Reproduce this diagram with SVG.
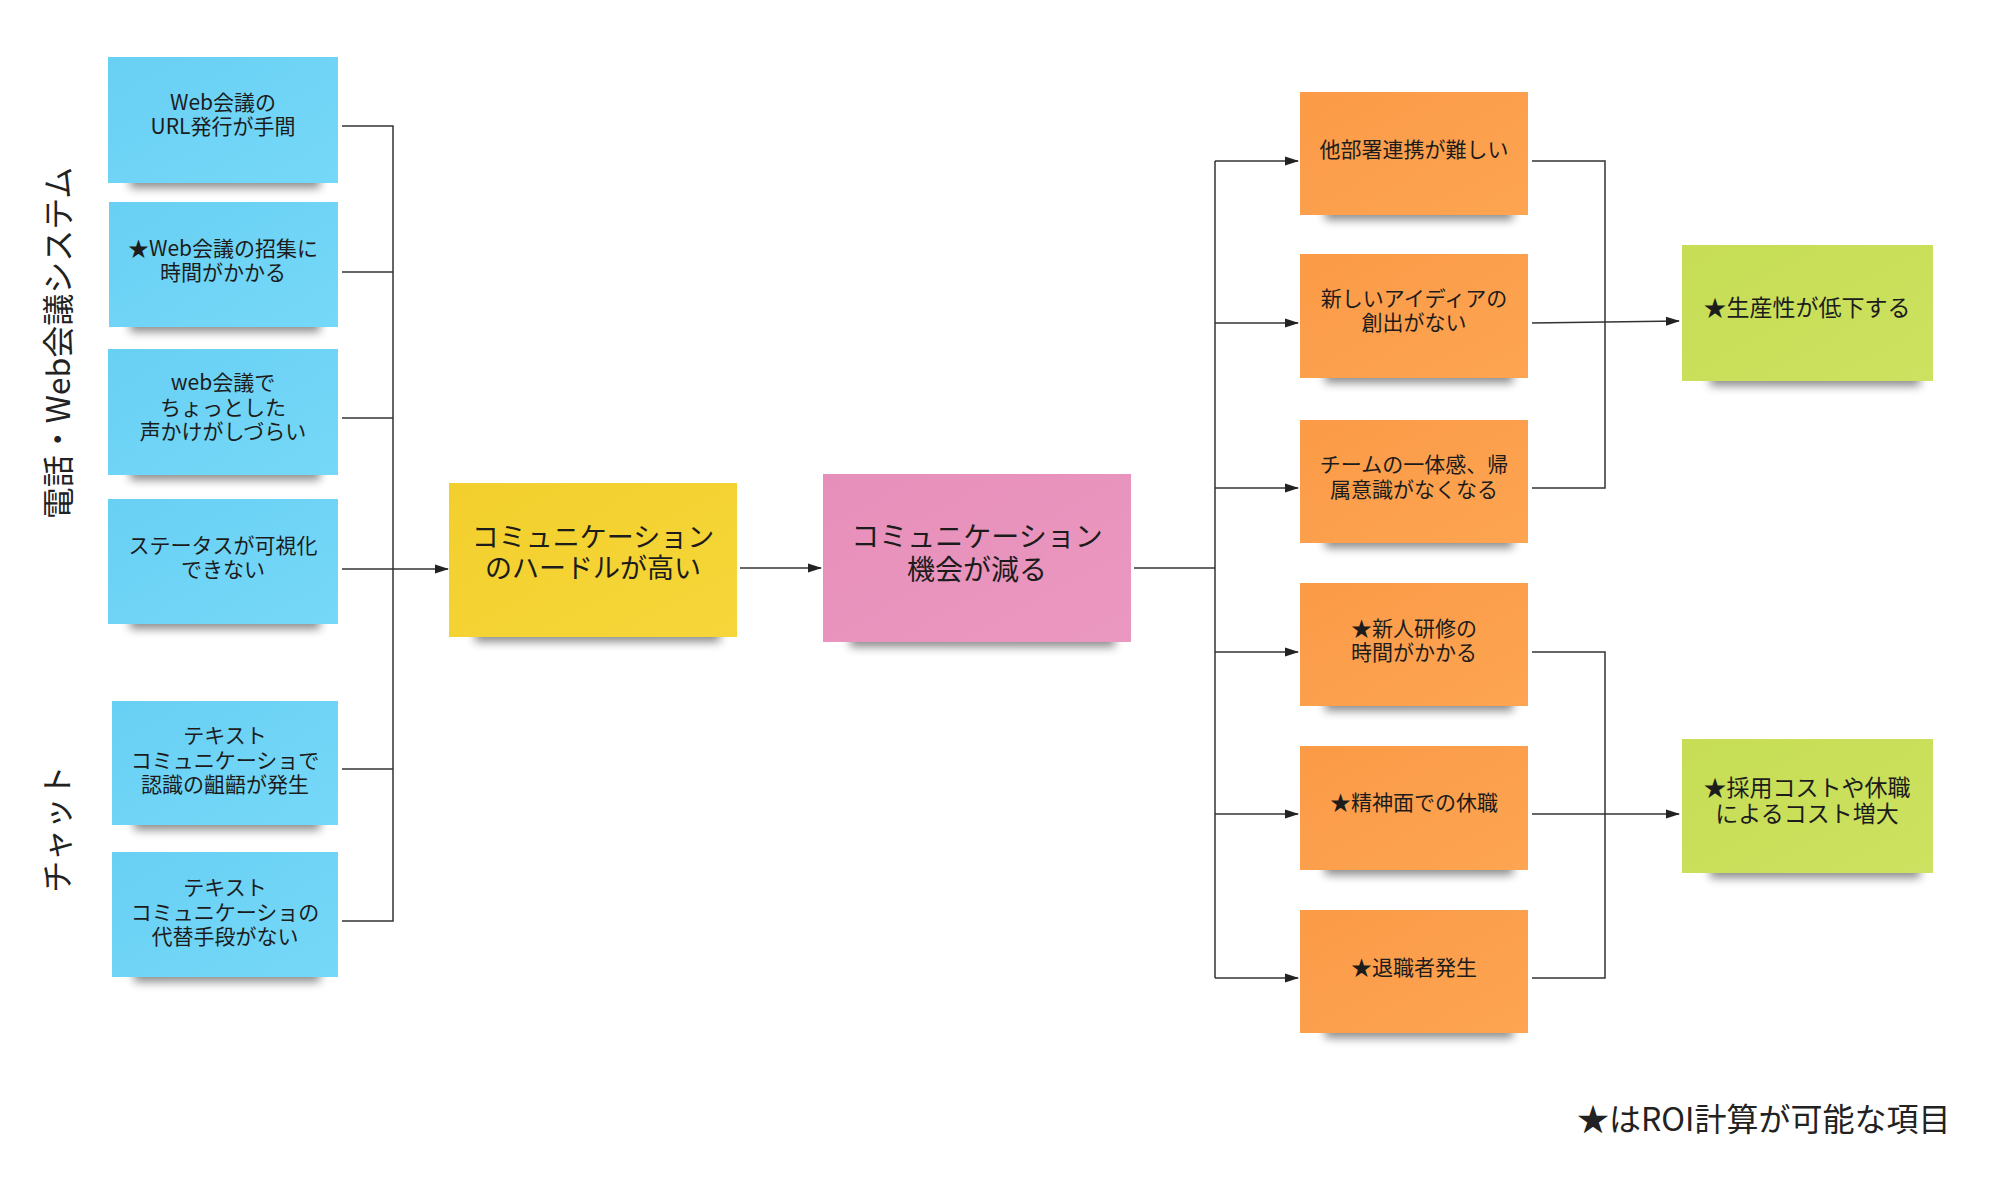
<svg xmlns="http://www.w3.org/2000/svg" width="2000" height="1197" viewBox="0 0 2000 1197">
<defs>
<filter id="sh" x="-20%" y="-100%" width="140%" height="300%"><feGaussianBlur stdDeviation="5"/></filter>
<marker id="arr" markerUnits="userSpaceOnUse" markerWidth="14" markerHeight="10" refX="13" refY="5" orient="auto"><path d="M0,0.5 L14,5 L0,9.5 Z" fill="#222"/></marker>
<linearGradient id="gb" x1="0" y1="0" x2="1" y2="1"><stop offset="0" stop-color="#68D0F4"/><stop offset="1" stop-color="#76D8F8"/></linearGradient>
<linearGradient id="gy" x1="0" y1="0" x2="1" y2="1"><stop offset="0" stop-color="#F2CF2C"/><stop offset="1" stop-color="#F6D63A"/></linearGradient>
<linearGradient id="gp" x1="0" y1="0" x2="1" y2="1"><stop offset="0" stop-color="#E68FBA"/><stop offset="1" stop-color="#EB98C0"/></linearGradient>
<linearGradient id="go" x1="0" y1="0" x2="1" y2="1"><stop offset="0" stop-color="#FB9A47"/><stop offset="1" stop-color="#FDA552"/></linearGradient>
<linearGradient id="gg" x1="0" y1="0" x2="1" y2="1"><stop offset="0" stop-color="#C6DD55"/><stop offset="1" stop-color="#CDE260"/></linearGradient>
</defs>
<style>
text{font-family:"Noto Sans CJK JP","Noto Sans",sans-serif;fill:#1c1c1c;text-anchor:middle}
.s{font-size:21px}
.m{font-size:23px}
.l{font-size:27px}
.xl{font-size:28px}
.lab{font-size:32px;fill:#222}
.shadow{fill:#000;opacity:0.45;filter:url(#sh)}
.blue{fill:url(#gb)}
.yellow{fill:url(#gy)}
.pink{fill:url(#gp)}
.orange{fill:url(#go)}
.green{fill:url(#gg)}
.c{fill:none;stroke:#333;stroke-width:1.5}
.a{fill:none;stroke:#333;stroke-width:1.5;marker-end:url(#arr)}
</style>
<rect width="2000" height="1197" fill="#fff"/>

<g id="label-web"><text class="lab" transform="translate(59,343) rotate(-90)" dy="11">電話・Web会議システム</text></g>
<g id="label-chat"><text class="lab" transform="translate(58,829) rotate(-90)" dy="11">チャット</text></g>

<g id="connectors">
<polyline class="c" points="342,126 393,126 393,921 342,921"/>
<line class="c" x1="342" y1="272" x2="393" y2="272"/>
<line class="c" x1="342" y1="418" x2="393" y2="418"/>
<line class="c" x1="342" y1="769" x2="393" y2="769"/>
<line class="a" x1="342" y1="569" x2="448" y2="569"/>
<line class="a" x1="740" y1="568" x2="821" y2="568"/>
<line class="c" x1="1134" y1="568" x2="1215" y2="568"/>
<line class="c" x1="1215" y1="161" x2="1215" y2="978"/>
<line class="a" x1="1215" y1="161" x2="1298" y2="161"/>
<line class="a" x1="1215" y1="323" x2="1298" y2="323"/>
<line class="a" x1="1215" y1="488" x2="1298" y2="488"/>
<line class="a" x1="1215" y1="652" x2="1298" y2="652"/>
<line class="a" x1="1215" y1="814" x2="1298" y2="814"/>
<line class="a" x1="1215" y1="978" x2="1298" y2="978"/>
<polyline class="c" points="1532,161 1605,161 1605,488 1532,488"/>
<line class="a" x1="1532" y1="323" x2="1679" y2="321"/>
<polyline class="c" points="1532,652 1605,652 1605,978 1532,978"/>
<line class="a" x1="1532" y1="814" x2="1679" y2="814"/>
</g>

<g id="b1"><rect class="shadow" x="130" y="172" width="190" height="16"/><rect class="blue" x="108" y="57" width="230" height="126"/><text class="s" x="223" y="110">Web会議の<tspan x="223" dy="24">URL発行が手間</tspan></text></g>
<g id="b2"><rect class="shadow" x="130" y="316" width="190" height="16"/><rect class="blue" x="109" y="202" width="229" height="125"/><text class="s" x="223" y="256">★Web会議の招集に<tspan x="223" dy="24">時間がかかる</tspan></text></g>
<g id="b3"><rect class="shadow" x="130" y="464" width="190" height="16"/><rect class="blue" x="108" y="349" width="230" height="126"/><text class="s" x="223" y="390">web会議で<tspan x="223" dy="24.5">ちょっとした</tspan><tspan x="223" dy="24.5">声かけがしづらい</tspan></text></g>
<g id="b4"><rect class="shadow" x="130" y="613" width="190" height="16"/><rect class="blue" x="108" y="499" width="230" height="125"/><text class="s" x="223" y="553">ステータスが可視化<tspan x="223" dy="24">できない</tspan></text></g>
<g id="b5"><rect class="shadow" x="134" y="814" width="186" height="16"/><rect class="blue" x="112" y="701" width="226" height="124"/><text class="s" x="225" y="743">テキスト<tspan x="225" dy="24.5">コミュニケーショで</tspan><tspan x="225" dy="24.5">認識の齟齬が発生</tspan></text></g>
<g id="b6"><rect class="shadow" x="134" y="966" width="186" height="16"/><rect class="blue" x="112" y="852" width="226" height="125"/><text class="s" x="225" y="895">テキスト<tspan x="225" dy="24.5">コミュニケーショの</tspan><tspan x="225" dy="24.5">代替手段がない</tspan></text></g>

<g id="yellow"><rect class="shadow" x="475" y="626" width="245" height="16"/><rect class="yellow" x="449" y="483" width="288" height="154"/><text class="l" x="593" y="547">コミュニケーション<tspan x="593" dy="31">のハードルが高い</tspan></text></g>
<g id="pink"><rect class="shadow" x="850" y="631" width="265" height="16"/><rect class="pink" x="823" y="474" width="308" height="168"/><text class="xl" x="977" y="547">コミュニケーション<tspan x="977" dy="33">機会が減る</tspan></text></g>

<g id="o1"><rect class="shadow" x="1325" y="204" width="188" height="16"/><rect class="orange" x="1300" y="92" width="228" height="123"/><text class="s" x="1414" y="157">他部署連携が難しい</text></g>
<g id="o2"><rect class="shadow" x="1325" y="367" width="188" height="16"/><rect class="orange" x="1300" y="254" width="228" height="124"/><text class="s" x="1414" y="306">新しいアイディアの<tspan x="1414" dy="24">創出がない</tspan></text></g>
<g id="o3"><rect class="shadow" x="1325" y="532" width="188" height="16"/><rect class="orange" x="1300" y="420" width="228" height="123"/><text class="s" x="1414" y="472">チームの一体感、帰<tspan x="1414" dy="25">属意識がなくなる</tspan></text></g>
<g id="o4"><rect class="shadow" x="1325" y="695" width="188" height="16"/><rect class="orange" x="1300" y="583" width="228" height="123"/><text class="s" x="1414" y="636">★新人研修の<tspan x="1414" dy="24">時間がかかる</tspan></text></g>
<g id="o5"><rect class="shadow" x="1325" y="859" width="188" height="16"/><rect class="orange" x="1300" y="746" width="228" height="124"/><text class="s" x="1414" y="810">★精神面での休職</text></g>
<g id="o6"><rect class="shadow" x="1325" y="1022" width="188" height="16"/><rect class="orange" x="1300" y="910" width="228" height="123"/><text class="s" x="1414" y="975">★退職者発生</text></g>

<g id="g1"><rect class="shadow" x="1710" y="370" width="210" height="16"/><rect class="green" x="1682" y="245" width="251" height="136"/><text class="m" x="1807" y="316">★生産性が低下する</text></g>
<g id="g2"><rect class="shadow" x="1710" y="862" width="210" height="16"/><rect class="green" x="1682" y="739" width="251" height="134"/><text class="m" x="1807" y="796">★採用コストや休職<tspan x="1807" dy="26">によるコスト増大</tspan></text></g>

<g id="note"><text class="lab" x="1577" y="1131" style="text-anchor:start">★はROI計算が可能な項目</text></g>
</svg>
